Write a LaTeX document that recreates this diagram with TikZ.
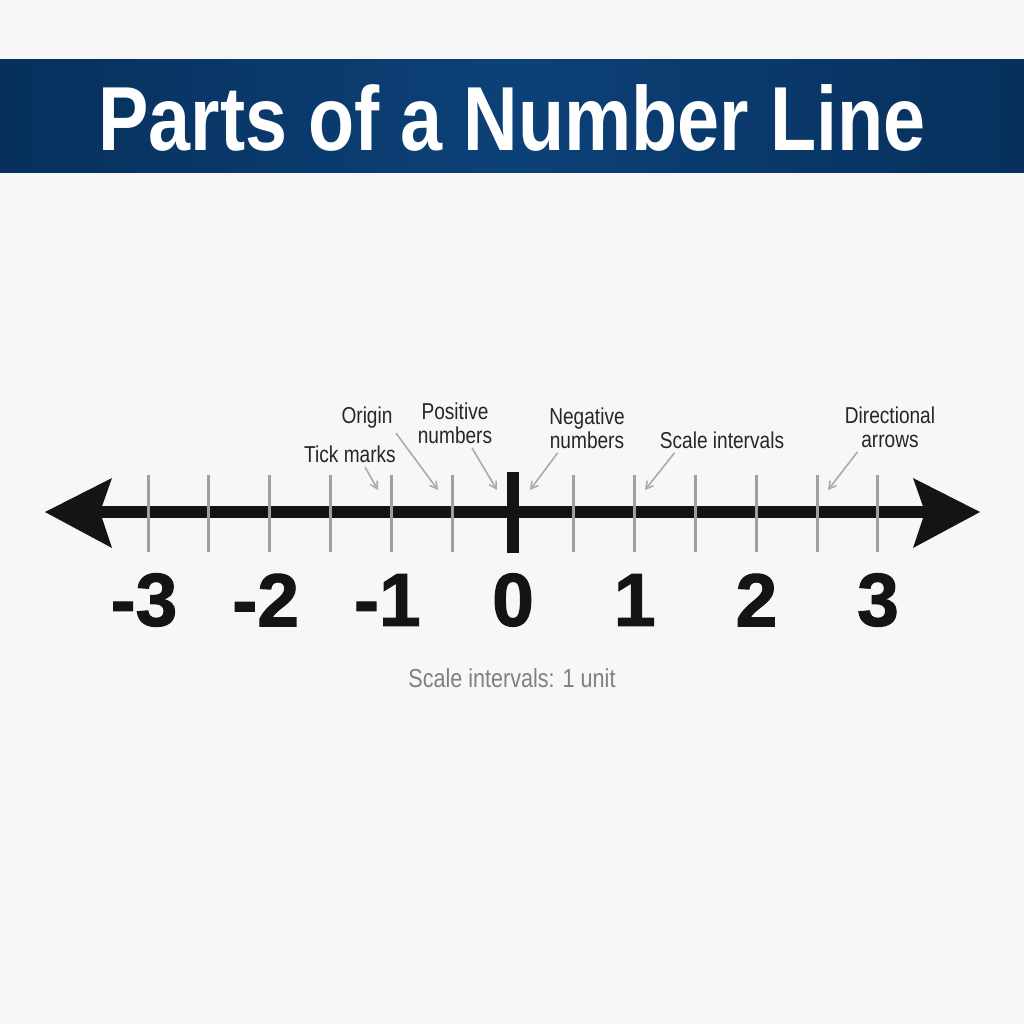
\documentclass[tikz,border=0pt]{standalone}
\usepackage{fontspec}
\setmainfont{Liberation Sans}
\newfontfamily\condfont{Liberation Sans}[FakeStretch=0.83]
\newfontfamily\numfont{Liberation Sans Bold}[FakeBold=1.5]
\usepackage{tikz}
\usetikzlibrary{arrows.meta,calc,positioning}

\definecolor{bandmid}{HTML}{0C4178}
\definecolor{bandedge}{HTML}{07305C}
\definecolor{paper}{HTML}{F7F7F7}
\definecolor{tickgray}{HTML}{A0A0A0}
\definecolor{notegray}{HTML}{ABABAB}

\begin{document}
\begin{tikzpicture}[x=1pt,y=-1pt,
  >={Straight Barb[length=7pt,width=8pt]},
  lbl/.style={font=\condfont\fontsize{23}{24}\selectfont, text=black!85,
    align=center, inner sep=1pt},
  note/.style={->, draw=notegray, line width=1.6pt, shorten <=4pt},
  num/.style={font=\numfont\fontsize{75}{75}\selectfont, text=black!92, inner sep=0pt}]
    \tikzstyle{tickmark}=[draw=tickgray, line width=3pt]

    % page and title band
    \fill[paper] (0,0) rectangle (1024,1024);
    \useasboundingbox (0,0) rectangle (1024,1024);
    \shade[left color=bandedge, right color=bandedge, middle color=bandmid]
      (0,60) rectangle (1024,173);
    \node[font=\condfont\bfseries\fontsize{91}{91}\selectfont, text=white, inner sep=0pt]
      (title) at (512,118) {Parts of a Number Line};

    % the line
    \coordinate (lend) at (100,512);
    \coordinate (rend) at (927,512);
    \draw[line width=12pt, black!92] (lend) -- (rend);
    \fill[black!92] (45,512) -- (112,478) -- (100,512) -- (112,548) -- cycle;
    \fill[black!92] (980,512) -- (913,478) -- (925,512) -- (913,548) -- cycle;

    % tick marks and origin
    \foreach \i in {-6,...,-1,1,2,...,6}
      \draw[tickmark] (513+60.83*\i,475) -- (513+60.83*\i,552);
    \fill[black!92] (507,472) rectangle (519,553);

    % numbers
    \foreach \n in {-3,-2,-1}
      \node[num] (n\n) at (509+121.67*\n,600) {\n};
    \foreach \n in {0,1,2,3}
      \node[num] (n\n) at (513+121.67*\n,600) {\n};

    % labels
    \node[lbl] (ticklbl) at (350,454) {Tick marks};
    \node[lbl] (origin)  at (367,418) {Origin};
    \node[lbl] (pos)     at (455,423) {Positive\\numbers};
    \node[lbl] (neg)     at (587,428) {Negative\\numbers};
    \node[lbl] (scale)   at (722,440) {Scale intervals};
    \node[lbl] (dir)     at (890,427) {Directional\\arrows};

    \coordinate (tickpt)   at (378,490);
    \coordinate (originpt) at (438,490);
    \coordinate (pospt)    at (497,490);
    \coordinate (negpt)    at (530,490);
    \coordinate (scalept)  at (645,490);
    \coordinate (dirpt)    at (828,490);

    \draw[note] ([xshift=13pt]ticklbl.south) -- (tickpt);
    \draw[note] (origin.south east) -- (originpt);
    \draw[note] ([xshift=15pt]pos.south) -- (pospt);
    \draw[note] ([xshift=-27pt]neg.south) -- (negpt);
    \draw[note] ([xshift=-45pt]scale.south) -- (scalept);
    \draw[note] ([xshift=-30pt]dir.south) -- (dirpt);

    % footnote
    \node[font=\condfont\fontsize{26}{26}\selectfont, text=black!50]
      (foot) at (512,678) {Scale intervals: 1 unit};
\end{tikzpicture}
\end{document}
